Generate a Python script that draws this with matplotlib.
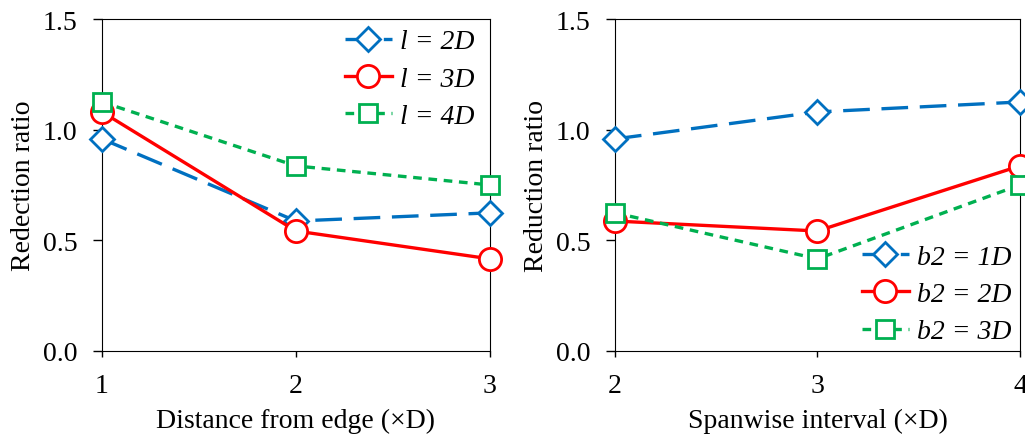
import matplotlib.pyplot as plt

plt.rcParams["font.family"] = ["Liberation Serif", "DejaVu Serif"]
plt.rcParams["font.size"] = 20

#### data
distance = [1, 2, 3]
l2d = [0.958, 0.587, 0.624]
l3d = [1.08, 0.542, 0.416]
l4d = [1.125, 0.836, 0.75]

spanwise = [2, 3, 4]
b1d = [0.958, 1.08, 1.125]
b2d = [0.587, 0.542, 0.836]
b3d = [0.624, 0.416, 0.75]

yticks = [0.0, 0.5, 1.0, 1.5]

blue = "#0070C0"
red = "#FF0000"
green = "#00B050"

styles = [
    dict(color = blue, marker = "D", markersize = 12, dashes = (8, 3.5)),
    dict(color = red, marker = "o", markersize = 16, linestyle = "-"),
    dict(color = green, marker = "s", markersize = 13, dashes = (2.6, 2)),
]

fig = plt.figure(figsize = (10.25, 4.35), dpi = 100)
ax1 = fig.add_axes([0.0995, 0.191, 0.3785, 0.763])
ax2 = fig.add_axes([0.600, 0.191, 0.395, 0.763])


def draw(ax, x, series, labels, xlabel, ylabel, loc, anchor):
    for y, lab, st in zip(series, labels, styles):
        ax.plot(x, y, linewidth = 2.4, markerfacecolor = "white", markeredgewidth = 2,
                label = lab, clip_on = False, zorder = 3, **st)
    ax.set_xlim(x[0], x[-1])
    ax.set_ylim(0, 1.5)
    ax.set_xticks(x)
    ax.set_yticks(yticks)
    ax.set_yticklabels([f"{v:.1f}" for v in yticks])
    ax.tick_params(axis = "y", direction = "out", length = 6.5, width = 1, pad = 11)
    ax.tick_params(axis = "x", direction = "out", length = 4, width = 1, pad = 12)
    ax.set_xlabel(xlabel, labelpad = 7)
    ax.set_ylabel(ylabel, labelpad = 5)
    ax.legend(loc = loc, bbox_to_anchor = anchor, frameon = False,
              borderaxespad = 0, borderpad = 0, handlelength = 1.7, handletextpad = 0.3,
              labelspacing = 0.42,
              prop = dict(family = "Liberation Serif", style = "italic", size = 20))


draw(ax1, distance, [l2d, l3d, l4d], ["l = 2D", "l = 3D", "l = 4D"],
     "Distance from edge (×D)", "Redection ratio", "upper right", (0.96, 0.97))
draw(ax2, spanwise, [b1d, b2d, b3d], ["b2 = 1D", "b2 = 2D", "b2 = 3D"],
     "Spanwise interval (×D)", "Reduction ratio", "lower right", (0.98, 0.02))

plt.savefig("out.png", dpi = 100)
